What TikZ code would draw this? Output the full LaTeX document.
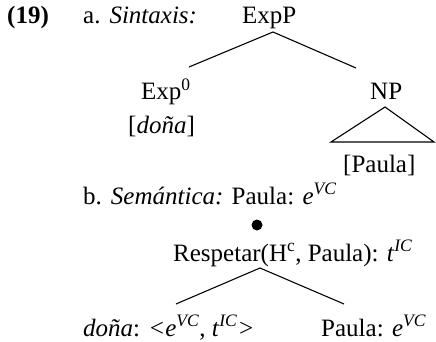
\documentclass[tikz,border=0pt]{standalone}
\usepackage{fontspec}
\setmainfont{Liberation Serif}
\begin{document}
\begin{tikzpicture}[x=1pt,y=-1pt,
  txt/.style={inner sep=0pt,anchor=base west,font=\fontsize{25}{29}\selectfont},
  branch/.style={line width=1.1pt}]
\useasboundingbox (0,0) rectangle (436,342);
% (a)
\node[txt] (num) at (7,24) {\textbf{(19)}};
\node[txt] (la) at (83,24) {a.\hspace{9pt}\textit{Sintaxis:}};
\node[txt] (expp) at (242,24) {ExpP};
\node[txt] (exp0) at (141,100) {Exp\textsuperscript{0}};
\node[txt] (dona) at (128,133) {[\textit{doña}]};
\node[txt] (np) at (370,100) {NP};
\node[txt] (paula1) at (343,172) {[Paula]};
\coordinate (a1) at (273,32);
\coordinate (a1l) at (189,67);
\coordinate (a1r) at (356,68);
\draw[branch] (a1l) -- (a1) -- (a1r);
\coordinate (t1) at (385,107);
\coordinate (t1l) at (331,142);
\coordinate (t1r) at (434,142);
\draw[branch,line join=miter] (t1) -- (t1l) -- (t1r) -- cycle;
% (b)
\node[txt] (lb) at (83,204) {b.\hspace{9pt}\textit{Semántica:} Paula: \textit{e}\textsuperscript{\textit{VC}}};
\fill (257,225) circle (5.5pt) coordinate (dot);
\node[txt] (resp) at (173,261) {Respetar(H\textsuperscript{c}, Paula): \textit{t}\textsuperscript{\textit{IC}}};
\coordinate (b1) at (260,268);
\coordinate (b1l) at (176,304);
\coordinate (b1r) at (344,304);
\draw[branch] (b1l) -- (b1) -- (b1r);
\node[txt] (donab) at (83,336) {\textit{doña}: \textit{\textless e}\textsuperscript{\textit{VC}}, \textit{t}\textsuperscript{\textit{IC}}\textit{\textgreater}};
\node[txt] (paula2) at (321,336) {Paula: \textit{e}\textsuperscript{\textit{VC}}};
\end{tikzpicture}
\end{document}
